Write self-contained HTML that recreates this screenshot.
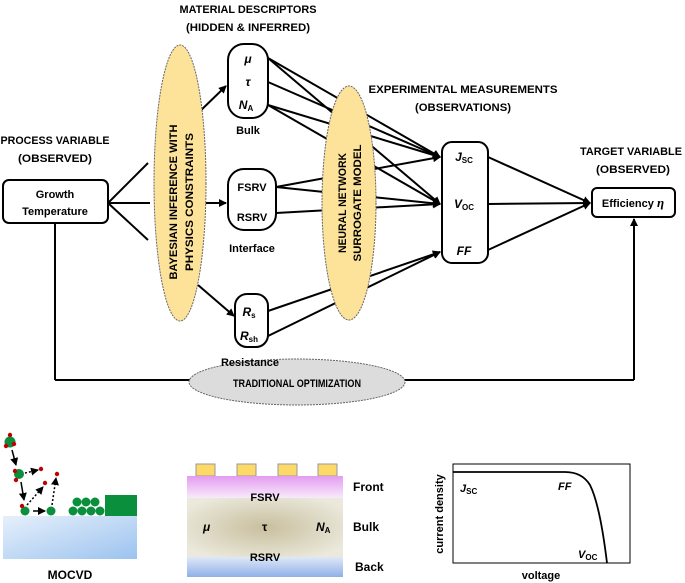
<!DOCTYPE html>
<html><head><meta charset="utf-8"><style>
body{margin:0;background:#fff}
svg{display:block}
text{font-family:"Liberation Sans",sans-serif;font-weight:bold;fill:#000}
</style></head><body>
<svg width="685" height="583" viewBox="0 0 685 583" xmlns="http://www.w3.org/2000/svg">
<defs>
<marker id="a" markerWidth="8" markerHeight="8" refX="7" refY="4" orient="auto" markerUnits="userSpaceOnUse"><path d="M0,0 L8,4 L0,8 z" fill="#000"/></marker>
<linearGradient id="sub" x1="0" y1="0" x2="1" y2="1"><stop offset="0" stop-color="#e6f0fb"/><stop offset="1" stop-color="#9cc3ef"/></linearGradient>
<linearGradient id="pink" x1="0" y1="0" x2="0" y2="1"><stop offset="0" stop-color="#e39cf0"/><stop offset="1" stop-color="#f8eafb"/></linearGradient>
<radialGradient id="bulk" cx="0.5" cy="0.5" r="0.6"><stop offset="0" stop-color="#c8bf9e"/><stop offset="1" stop-color="#ebe9dc"/></radialGradient>
<linearGradient id="back" x1="0" y1="0" x2="0" y2="1"><stop offset="0" stop-color="#dfe8f8"/><stop offset="1" stop-color="#8fb0e8"/></linearGradient>
</defs>
<g stroke="#000" stroke-width="2" fill="none">
<line x1="108" y1="203" x2="148" y2="163"/>
<line x1="108" y1="203" x2="148" y2="240"/>
<line x1="108" y1="203" x2="150" y2="203"/>
<line x1="55" y1="223" x2="55" y2="380"/>
<line x1="55" y1="380" x2="634" y2="380"/>
<line x1="634" y1="380" x2="634" y2="219" marker-end="url(#a)"/>
<line x1="196" y1="115" x2="226" y2="86" marker-end="url(#a)"/>
<line x1="204" y1="203" x2="226" y2="203" marker-end="url(#a)"/>
<line x1="198" y1="285" x2="234" y2="316" marker-end="url(#a)"/>
<line x1="268" y1="58" x2="440" y2="157" marker-end="url(#a)"/>
<line x1="268" y1="82" x2="440" y2="157" marker-end="url(#a)"/>
<line x1="268" y1="105" x2="440" y2="157" marker-end="url(#a)"/>
<line x1="268" y1="105" x2="440" y2="204" marker-end="url(#a)"/>
<line x1="268" y1="58" x2="440" y2="204" marker-end="url(#a)"/>
<line x1="276" y1="187" x2="440" y2="157" marker-end="url(#a)"/>
<line x1="276" y1="187" x2="440" y2="204" marker-end="url(#a)"/>
<line x1="276" y1="213" x2="440" y2="204" marker-end="url(#a)"/>
<line x1="268" y1="311" x2="440" y2="252" marker-end="url(#a)"/>
<line x1="268" y1="336" x2="440" y2="252" marker-end="url(#a)"/>
<line x1="488" y1="157" x2="590" y2="203" marker-end="url(#a)"/>
<line x1="488" y1="204" x2="590" y2="203" marker-end="url(#a)"/>
<line x1="488" y1="250" x2="590" y2="203" marker-end="url(#a)"/>
</g>
<ellipse cx="180" cy="183" rx="26" ry="138" fill="#fde39a" stroke="#666" stroke-dasharray="2,1"/>
<text transform="translate(177,202) rotate(-90)" text-anchor="middle" font-size="11" textLength="155" lengthAdjust="spacingAndGlyphs">BAYESIAN INFERENCE WITH</text>
<text transform="translate(193,202) rotate(-90)" text-anchor="middle" font-size="11" textLength="138" lengthAdjust="spacingAndGlyphs">PHYSICS CONSTRAINTS</text>
<ellipse cx="349" cy="203" rx="27" ry="117" fill="#fde39a" stroke="#666" stroke-dasharray="2,1"/>
<text transform="translate(346,203) rotate(-90)" text-anchor="middle" font-size="11" textLength="100" lengthAdjust="spacingAndGlyphs">NEURAL NETWORK</text>
<text transform="translate(361,203) rotate(-90)" text-anchor="middle" font-size="11" textLength="117" lengthAdjust="spacingAndGlyphs">SURROGATE MODEL</text>
<ellipse cx="297" cy="382" rx="108" ry="23" fill="#dcdcdc" stroke="#666" stroke-dasharray="2,1"/>
<text x="297" y="387" text-anchor="middle" font-size="11" textLength="128" lengthAdjust="spacingAndGlyphs">TRADITIONAL OPTIMIZATION</text>
<g fill="#fff" stroke="#000" stroke-width="2">
<rect x="3" y="180" width="105" height="43" rx="6"/>
<rect x="228" y="44" width="40" height="74" rx="16"/>
<rect x="228" y="169" width="48" height="61" rx="16"/>
<rect x="235" y="294" width="33" height="53" rx="12"/>
<rect x="442" y="142" width="46" height="121" rx="10"/>
<rect x="592" y="188" width="83" height="29" rx="5"/>
</g>
<text x="55" y="198" text-anchor="middle" font-size="11">Growth</text>
<text x="55" y="215" text-anchor="middle" font-size="11">Temperature</text>
<text x="248" y="63" text-anchor="middle" font-size="12" font-style="italic">μ</text>
<text x="248" y="86" text-anchor="middle" font-size="12" font-style="italic">τ</text>
<text x="246" y="109" text-anchor="middle" font-size="12" font-style="italic">N<tspan font-size="8" font-style="normal" dy="2">A</tspan></text>
<text x="248" y="134" text-anchor="middle" font-size="11">Bulk</text>
<text x="252" y="191" text-anchor="middle" font-size="11">FSRV</text>
<text x="252" y="221" text-anchor="middle" font-size="11">RSRV</text>
<text x="252" y="252" text-anchor="middle" font-size="11">Interface</text>
<text x="249" y="316" text-anchor="middle" font-size="12" font-style="italic">R<tspan font-size="8" font-style="normal" dy="2">s</tspan></text>
<text x="249" y="340" text-anchor="middle" font-size="12" font-style="italic">R<tspan font-size="8" font-style="normal" dy="2">sh</tspan></text>
<text x="250" y="366" text-anchor="middle" font-size="11">Resistance</text>
<text x="464" y="161" text-anchor="middle" font-size="12" font-style="italic">J<tspan font-size="8" font-style="normal" dy="2">SC</tspan></text>
<text x="464" y="208" text-anchor="middle" font-size="12" font-style="italic">V<tspan font-size="8" font-style="normal" dy="2">OC</tspan></text>
<text x="464" y="255" text-anchor="middle" font-size="12" font-style="italic">FF</text>
<text x="633" y="207" text-anchor="middle" font-size="11">Efficiency <tspan font-family="Liberation Serif" font-style="italic" font-size="13">η</tspan></text>
<text x="248" y="13" text-anchor="middle" font-size="11" textLength="137" lengthAdjust="spacingAndGlyphs">MATERIAL DESCRIPTORS</text>
<text x="248" y="31" text-anchor="middle" font-size="11" textLength="124" lengthAdjust="spacingAndGlyphs">(HIDDEN &amp; INFERRED)</text>
<text x="463" y="93" text-anchor="middle" font-size="11" textLength="189" lengthAdjust="spacingAndGlyphs">EXPERIMENTAL MEASUREMENTS</text>
<text x="463" y="111" text-anchor="middle" font-size="11" textLength="96" lengthAdjust="spacingAndGlyphs">(OBSERVATIONS)</text>
<text x="631" y="155" text-anchor="middle" font-size="11" textLength="102" lengthAdjust="spacingAndGlyphs">TARGET VARIABLE</text>
<text x="633" y="173" text-anchor="middle" font-size="11" textLength="74" lengthAdjust="spacingAndGlyphs">(OBSERVED)</text>
<text x="55" y="144" text-anchor="middle" font-size="11" textLength="109" lengthAdjust="spacingAndGlyphs">PROCESS VARIABLE</text>
<text x="55" y="162" text-anchor="middle" font-size="11" textLength="74" lengthAdjust="spacingAndGlyphs">(OBSERVED)</text>
<!-- MOCVD -->
<rect x="3" y="516" width="134" height="43" fill="url(#sub)"/>
<rect x="105" y="495" width="32" height="21" fill="#0a8f3c"/>
<g fill="#0a8f3c">
<circle cx="73" cy="511" r="4.5"/><circle cx="82" cy="511" r="4.5"/><circle cx="91" cy="511" r="4.5"/><circle cx="100" cy="511" r="4.5"/>
<circle cx="77" cy="502" r="4.5"/><circle cx="86" cy="502" r="4.5"/><circle cx="95" cy="502" r="4.5"/>
<circle cx="25" cy="511" r="4.5"/><circle cx="51" cy="511" r="4.5"/>
<circle cx="19" cy="474" r="5"/><circle cx="10" cy="442" r="5.5"/>
</g>
<g fill="#c00000"><circle cx="10" cy="435" r="2.2"/><circle cx="14" cy="444" r="2.2"/><circle cx="6" cy="446" r="2.2"/><circle cx="15" cy="471" r="2.2"/><circle cx="16" cy="480" r="2.2"/><circle cx="41" cy="469" r="2.2"/><circle cx="45" cy="483" r="2.2"/><circle cx="57" cy="474" r="2.2"/><circle cx="22" cy="506" r="2.2"/></g>
<g stroke="#000" stroke-width="1.5" fill="none">
<line x1="12" y1="450" x2="16" y2="465" marker-end="url(#a)"/>
<line x1="21" y1="482" x2="24" y2="500" marker-end="url(#a)"/>
<line x1="33" y1="511" x2="45" y2="511" marker-end="url(#a)"/>
<line x1="25" y1="473" x2="38" y2="470" stroke-dasharray="2,2" marker-end="url(#a)"/>
<line x1="27" y1="505" x2="43" y2="487" stroke-dasharray="2,2" marker-end="url(#a)"/>
<line x1="52" y1="505" x2="56" y2="478" stroke-dasharray="2,2" marker-end="url(#a)"/>
</g>
<text x="70" y="579" text-anchor="middle" font-size="12">MOCVD</text>
<!-- cell -->
<g fill="#fdd96a" stroke="#999"><rect x="196" y="464" width="19" height="12"/><rect x="237" y="464" width="19" height="12"/><rect x="278" y="464" width="19" height="12"/><rect x="318" y="464" width="19" height="12"/></g>
<rect x="187" y="476" width="156" height="22" fill="url(#pink)"/>
<rect x="187" y="498" width="156" height="59" fill="url(#bulk)"/>
<rect x="187" y="557" width="156" height="20" fill="url(#back)"/>
<text x="265" y="501" text-anchor="middle" font-size="11">FSRV</text>
<text x="265" y="561" text-anchor="middle" font-size="11">RSRV</text>
<text x="203" y="531" font-size="12" font-style="italic">μ</text>
<text x="262" y="531" font-size="12" font-family="Liberation Serif" font-weight="normal">τ</text>
<text x="316" y="531" font-size="12" font-style="italic">N<tspan font-size="8" font-style="normal" dy="2">A</tspan></text>
<text x="353" y="491" font-size="12">Front</text>
<text x="353" y="531" font-size="12">Bulk</text>
<text x="355" y="571" font-size="12">Back</text>
<!-- IV plot -->
<rect x="453" y="464" width="177" height="99" fill="#fff" stroke="#000" stroke-width="1"/>
<path d="M453,472 L565,472 Q582,472 590,485 Q600,505 607,563" fill="none" stroke="#000" stroke-width="1.8"/>
<text x="460" y="492" font-size="11" font-style="italic">J<tspan font-size="8" font-style="normal" dy="2">SC</tspan></text>
<text x="558" y="490" font-size="11" font-style="italic">FF</text>
<text x="578" y="558" font-size="11" font-style="italic">V<tspan font-size="8" font-style="normal" dy="2">OC</tspan></text>
<text transform="translate(443,514) rotate(-90)" text-anchor="middle" font-size="11">current density</text>
<text x="541" y="579" text-anchor="middle" font-size="11">voltage</text>
</svg>
</body></html>
